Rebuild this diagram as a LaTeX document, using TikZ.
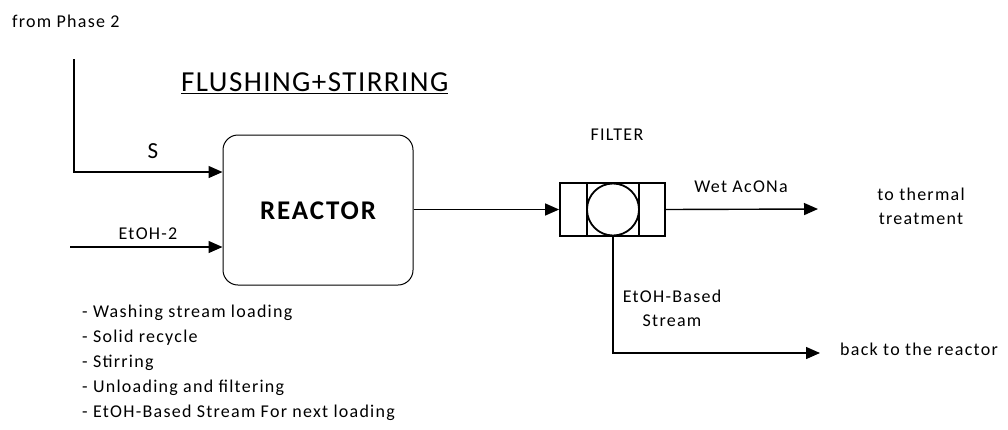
\documentclass[tikz,border=0pt]{standalone}
\usepackage{fontspec}
\setmainfont{Carlito}[LetterSpace=7]
\newfontfamily\titlefont{Carlito}[LetterSpace=5]
\usetikzlibrary{arrows.meta}
\tikzset{
  line/.style={line width=1.4pt},
  arr/.style={line width=1.4pt,-{Triangle[length=14pt,width=12pt]}},
  txt/.style={inner sep=0pt,font=\fontsize{18}{21}\selectfont},
  reactorbox/.style={draw,line width=1pt,rounded corners=15pt,minimum width=190pt,minimum height=150pt,inner sep=0pt},
  filterbox/.style={draw,line width=1.8pt,minimum width=105pt,minimum height=53pt,inner sep=0pt},
}
\begin{document}
\begin{tikzpicture}[x=1pt,y=-1pt]
\useasboundingbox (0,0) rectangle (1008,429);
% nodes
\node[reactorbox] (reactor) at (318,210) {};
\node[font=\fontsize{27}{30}\selectfont\bfseries,inner sep=0pt] (rlabel) at (318,211) {REACTOR};
\node[filterbox] (filter) at (612.5,209.5) {};
\draw[line width=1.8pt] (587,183) -- (587,236) (639,183) -- (639,236);
\node[draw,circle,line width=1.8pt,minimum size=52pt,inner sep=0pt] (circ) at (613,209.5) {};
% texts
\node[txt,anchor=west] (phase) at (12,21) {from Phase 2};
\node[inner sep=0pt,anchor=west,font=\titlefont\fontsize{29}{34}\selectfont] (title) at (181,83) {\underline{FLUSHING+STIRRING}};
\node[txt,font=\fontsize{23}{26}\selectfont] (slab) at (153,151) {S};
\node[txt] (elab) at (148,234) {EtOH-2};
\node[txt] (flab) at (617,135) {FILTER};
\node[txt] (wlab) at (741,187) {Wet AcONa};
\node[txt,align=center,font=\fontsize{18}{24}\selectfont] (thermal) at (921,206) {to thermal\\treatment};
\node[txt,align=center,font=\fontsize{18}{24}\selectfont] (ebs) at (672,308) {EtOH-Based\\Stream};
\node[txt,anchor=west] (back) at (840,349) {back to the reactor};
\node[txt,anchor=north west,align=left,font=\fontsize{18}{25}\selectfont] (list) at (82,305) {- Washing stream loading\\- Solid recycle\\- Stirring\\- Unloading and filtering\\- EtOH-Based Stream For next loading};
% free ends
\coordinate (src) at (74,59);
\coordinate (e2) at (70,247);
\coordinate (wetend) at (818,209);
\coordinate (backend) at (820,353);
% connectors
\draw[arr] (src) |- ([yshift=38pt]reactor.west);
\draw[arr] (e2) -- (e2 -| reactor.west);
\draw[arr] (reactor.east |- filter.west) -- (filter.west);
\draw[arr] (filter.east) -- (wetend);
\draw[arr] (circ.south) |- (backend);
\end{tikzpicture}
\end{document}
